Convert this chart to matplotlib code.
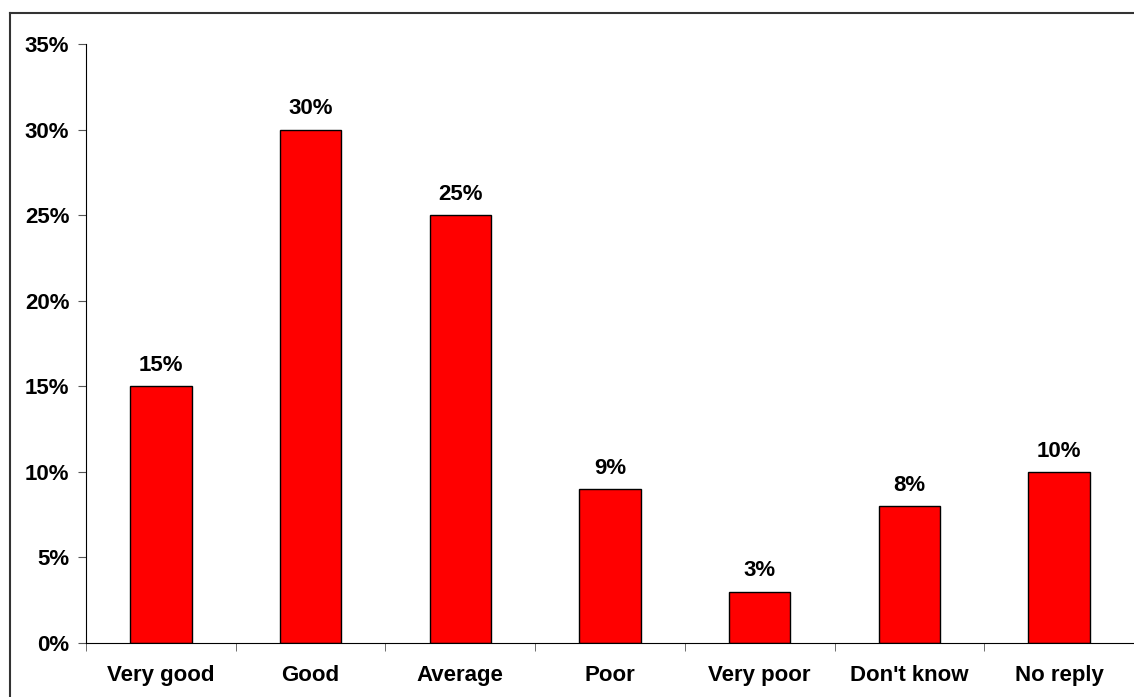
import matplotlib
matplotlib.use('Agg')
import matplotlib.pyplot as plt
from matplotlib.lines import Line2D

categories = ['Very good', 'Good', 'Average', 'Poor', 'Very poor', "Don't know", 'No reply']
values = [15, 30, 25, 9, 3, 8, 10]
yticks = [0, 5, 10, 15, 20, 25, 30, 35]

plt.rcParams['font.family'] = ['Liberation Sans', 'DejaVu Sans']
plt.rcParams['font.weight'] = 'bold'

fig = plt.figure(figsize=(11.34, 6.97), dpi=100)
ax = fig.add_axes([86/1134, 1-643/697, 1-86/1134, (643-44)/697])

x = range(len(categories))
ax.bar(x, values, width=0.41, color='#ff0000', edgecolor='black', linewidth=1)
for i, v in enumerate(values):
    ax.text(i, v + 0.6, f'{v}%', ha='center', va='bottom', fontsize=16, fontweight='bold')

ax.set_xlim(-0.5, len(categories) - 0.5)
ax.set_ylim(0, 35)
ax.set_yticks(yticks)
ax.set_yticklabels([f'{t}%' for t in yticks], fontsize=16, fontweight='bold')
ax.set_xticks(x)
ax.set_xticklabels(categories, fontsize=16, fontweight='bold')
ax.set_xticks([i - 0.5 for i in range(len(categories) + 1)], minor=True)
ax.tick_params(axis='x', which='major', length=0, pad=16)
ax.tick_params(axis='x', which='minor', length=6, direction='out', color='#555555')
ax.tick_params(axis='y', length=6, direction='out', pad=6, color='#555555')
ax.spines['top'].set_visible(False)
ax.spines['right'].set_visible(False)

# outer chart frame
fig.add_artist(Line2D([10/1134, 10/1134], [0, 1-13/697], color='#333333', lw=1.5, transform=fig.transFigure))
fig.add_artist(Line2D([10/1134, 1], [1-13/697, 1-13/697], color='#333333', lw=1.5, transform=fig.transFigure))

fig.savefig('out.png', dpi=100)
